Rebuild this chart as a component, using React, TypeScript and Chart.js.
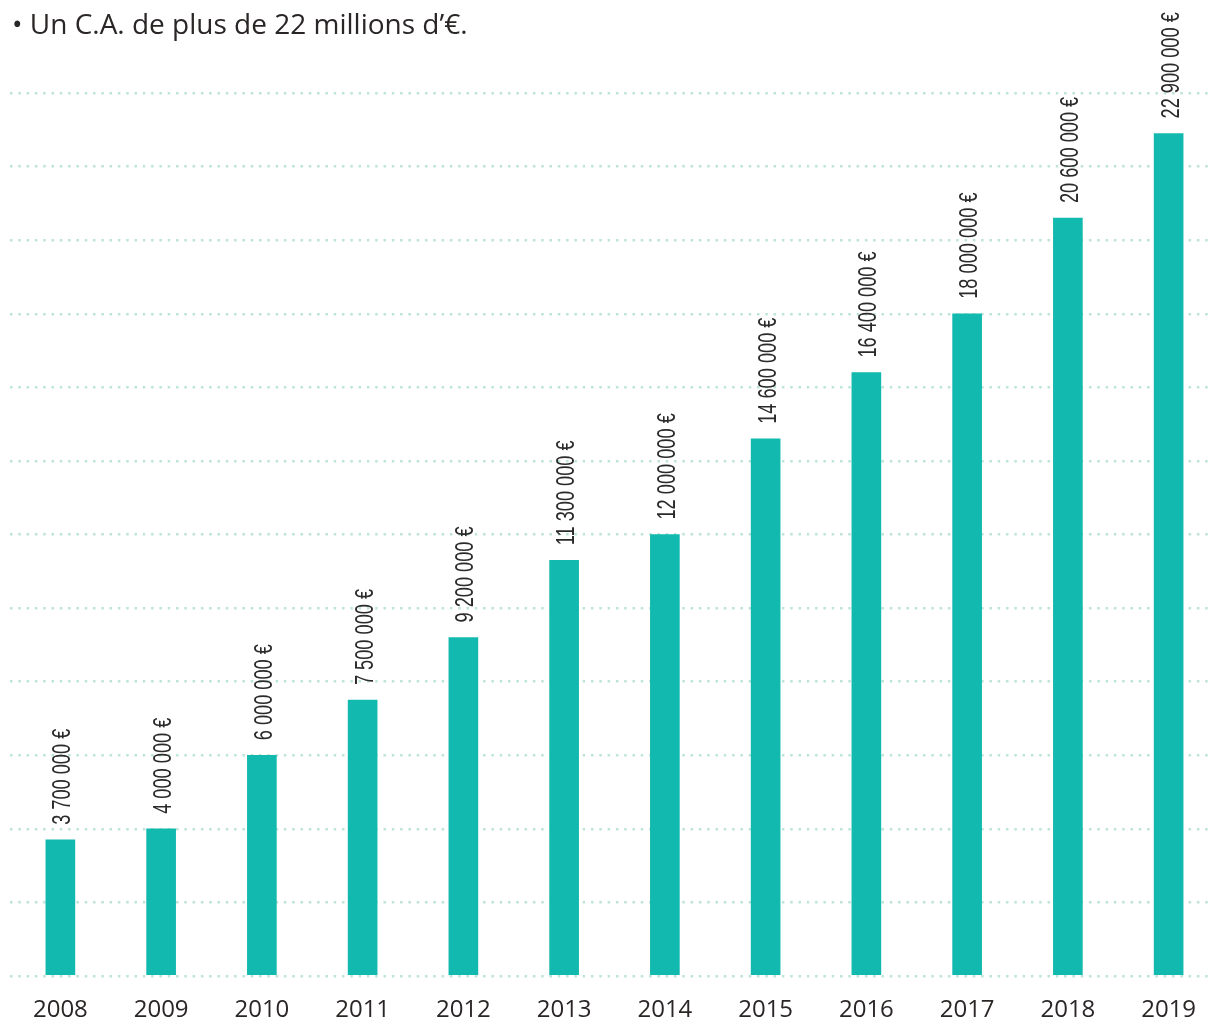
import React, { useEffect, useRef } from "react";
import { Chart, registerables } from "chart.js";

Chart.register(...registerables);

const years = ["2008", "2009", "2010", "2011", "2012", "2013", "2014", "2015", "2016", "2017", "2018", "2019"];
const revenue = [3700000, 4000000, 6000000, 7500000, 9200000, 11300000, 12000000, 14600000, 16400000, 18000000, 20600000, 22900000];
const valueLabels = [
  "3 700 000 €", "4 000 000 €", "6 000 000 €", "7 500 000 €", "9 200 000 €", "11 300 000 €",
  "12 000 000 €", "14 600 000 €", "16 400 000 €", "18 000 000 €", "20 600 000 €", "22 900 000 €",
];
const titleText = "• Un C.A. de plus de 22 millions d’€.";
const yMax = 24000000;
const yStep = 2000000;

const valueLabelPlugin = {
  id: "valueLabels",
  afterDatasetsDraw(chart: any) {
    const ctx = chart.ctx;
    const meta = chart.getDatasetMeta(0);
    ctx.save();
    ctx.fillStyle = "#2b2a2a";
    ctx.font = "26px 'Liberation Sans', Arial, sans-serif";
    ctx.textAlign = "left";
    ctx.textBaseline = "alphabetic";
    meta.data.forEach((bar: any, i: number) => {
      ctx.save();
      ctx.translate(bar.x + 10, bar.y - 15);
      ctx.rotate(-Math.PI / 2);
      ctx.scale(0.7, 1);
      ctx.fillText(valueLabels[i], 0, 0);
      ctx.restore();
    });
    ctx.restore();
  },
};

export default function App() {
  const ref = useRef<HTMLCanvasElement | null>(null);
  useEffect(() => {
    if (!ref.current) return;
    const chart = new Chart(ref.current, {
      type: "bar",
      data: {
        labels: years,
        datasets: [
          {
            data: revenue,
            backgroundColor: "#12b9ae",
            borderWidth: 0,
            barThickness: 29,
          },
        ],
      },
      options: {
        responsive: false,
        animation: false,
        layout: { padding: { top: 93, left: 10, right: 0, bottom: 0 } },
        plugins: {
          legend: { display: false },
          tooltip: { enabled: false },
          title: { display: false },
        },
        scales: {
          x: {
            grid: { display: false, drawTicks: false },
            border: { display: false },
            ticks: {
              color: "#2b2626",
              font: { family: "'Open Sans', sans-serif", size: 24 },
              padding: 20,
              maxRotation: 0,
            },
            afterFit: (s: any) => {
              s.height = 47;
            },
          },
          y: {
            min: 0,
            max: yMax,
            ticks: { display: false, stepSize: yStep },
            grid: {
              color: "#bde4d9",
              lineWidth: 2.5,
              drawTicks: false,
            },
            border: { display: false, dash: [2.5, 5.8] },
            afterFit: (s: any) => {
              s.width = 0;
            },
          },
        },
      },
      plugins: [valueLabelPlugin],
    });
    return () => chart.destroy();
  }, []);
  return (
    <div
      style={{
        position: "fixed",
        left: 0,
        top: 0,
        width: 1208,
        height: 1023,
        overflow: "hidden",
        background: "#fff",
      }}
    >
      <canvas ref={ref} width={1219} height={1023} style={{ position: "absolute", left: 0, top: 0 }} />
      <div
        style={{
          position: "absolute",
          left: 12,
          top: 3,
          fontFamily: "'Open Sans', sans-serif",
          fontSize: 28,
          color: "#2b2626",
          whiteSpace: "nowrap",
          lineHeight: "40px",
        }}
      >
        {titleText}
      </div>
    </div>
  );
}
